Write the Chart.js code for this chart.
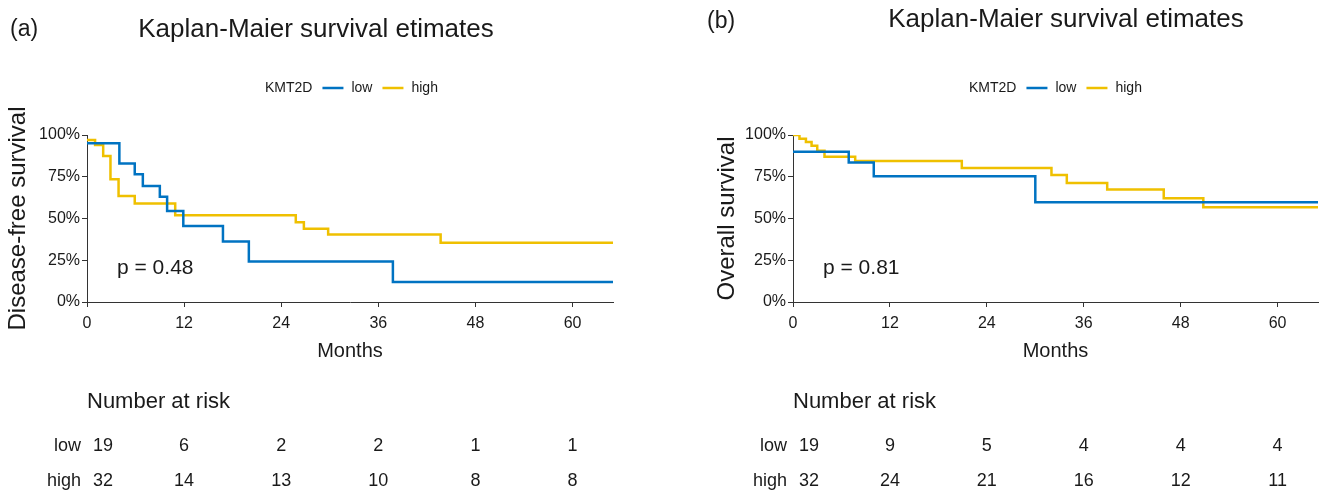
<!DOCTYPE html>
<html>
<head>
<meta charset="utf-8">
<script src="https://cdn.jsdelivr.net/npm/chart.js@4.4.1/dist/chart.umd.min.js"></script>
<style>
  body { margin: 0; background: #fff; }
  #wrap { position: relative; width: 1323px; height: 495px; }
  canvas { position: absolute; top: 0; }
</style>
</head>
<body>
<div id="wrap">
  <canvas id="graficoDFS" width="661" height="495" style="left:0"></canvas>
  <canvas id="graficoOS" width="662" height="495" style="left:661px"></canvas>
</div>
<script>
// ticks / risk table times (months)
const tempos = [0, 12, 24, 36, 48, 60];
const grupos = ["low", "high"];
const cores = ["#0073C2", "#EFC000"];

// (a) disease-free survival, step points (months, % surviving after the step)
const dfsLowT  = [0, 4.0, 5.9, 6.9, 9.0, 9.9, 11.9, 16.8, 20.0, 37.8, 65];
const dfsLowS  = [95, 83, 76.5, 69.5, 63, 54.5, 45.5, 36.3, 24.3, 12, 12];
const dfsHighT = [0, 1.0, 2.0, 2.9, 3.9, 5.9, 10.9, 25.8, 26.8, 29.8, 43.7, 65];
const dfsHighS = [97, 94, 87.5, 73.5, 63.5, 59, 52, 47.8, 43.8, 40.4, 35.5, 35.5];
const dfsRiscoLow  = [19, 6, 2, 2, 1, 1];
const dfsRiscoHigh = [32, 14, 13, 10, 8, 8];

// (b) overall survival
const osLowT  = [0, 6.9, 10.0, 30.0, 65];
const osLowS  = [90, 83.5, 75.3, 59.8, 59.8];
const osHighT = [0, 0.8, 1.6, 2.3, 3.0, 3.9, 7.7, 20.9, 32.0, 33.9, 38.9, 45.9, 50.8, 65];
const osHighS = [100, 97.8, 95.8, 93.5, 90.5, 87, 84.4, 80.2, 76.1, 71.3, 67.3, 62.2, 56.8, 56.8];
const osRiscoLow  = [19, 9, 5, 4, 4, 4];
const osRiscoHigh = [32, 24, 21, 16, 12, 11];

const FONTE = "'Liberation Sans', Arial, sans-serif";
Chart.defaults.font.family = FONTE;
Chart.defaults.color = "#1a1a1a";

const pontos = (t, s) => t.map((v, i) => ({ x: v, y: s[i] }));

// titles, legend, p value and number-at-risk table
const extrasKM = {
    id: 'extrasKM',
    afterDraw(chart, args, o) {
        const ctx = chart.ctx;
        const area = chart.chartArea;
        const xs = chart.scales.x;
        ctx.save();
        ctx.fillStyle = "#1a1a1a";
        ctx.textBaseline = "middle";

        ctx.font = "23px " + FONTE;
        ctx.textAlign = "left";
        ctx.fillText(o.rotulo, o.rotuloX, o.rotuloY);

        ctx.font = "26px " + FONTE;
        ctx.textAlign = "center";
        ctx.fillText("Kaplan-Maier survival etimates", o.tituloX, o.tituloY);

        // legend
        ctx.font = "14px " + FONTE;
        ctx.textAlign = "left";
        let x = o.legendaX;
        const y = 88;
        ctx.fillText("KMT2D", x, y);
        x += ctx.measureText("KMT2D").width + 10;
        grupos.forEach((g, i) => {
            ctx.strokeStyle = cores[i];
            ctx.lineWidth = 2.5;
            ctx.beginPath();
            ctx.moveTo(x, y);
            ctx.lineTo(x + 21, y);
            ctx.stroke();
            x += 29;
            ctx.fillText(g, x, y);
            x += ctx.measureText(g).width + 10;
        });

        ctx.font = "21px " + FONTE;
        ctx.fillText(o.p, area.left + 30, 268);

        ctx.font = "22px " + FONTE;
        ctx.fillText("Number at risk", area.left, 402);

        ctx.font = "18px " + FONTE;
        [o.riscoLow, o.riscoHigh].forEach((linha, r) => {
            const yy = r === 0 ? 446 : 481;
            ctx.textAlign = "right";
            ctx.fillText(grupos[r], area.left - 6, yy);
            ctx.textAlign = "center";
            linha.forEach((n, i) => {
                const px = xs.getPixelForValue(tempos[i]) + (i === 0 ? 16 : 0);
                ctx.fillText(String(n), px, yy);
            });
        });
        ctx.restore();
    }
};

function criarGrafico(id, lowT, lowS, highT, highS, tituloY, extras, padL, esquerda, padR) {
    const ctx = document.getElementById(id).getContext('2d');
    return new Chart(ctx, {
        type: 'line',
        data: {
            datasets: [
                { label: grupos[0], data: pontos(lowT, lowS), borderColor: cores[0] },
                { label: grupos[1], data: pontos(highT, highS), borderColor: cores[1] }
            ].map(d => Object.assign(d, { stepped: true, borderWidth: 2.5, pointRadius: 0, fill: false }))
        },
        options: {
            responsive: false,
            animation: false,
            events: [],
            layout: { padding: { top: 135, bottom: 132, left: padL, right: padR } },
            plugins: { legend: { display: false }, tooltip: { enabled: false }, extrasKM: extras },
            scales: {
                x: {
                    type: 'linear', min: 0, max: 65,
                    afterFit: s => { s.height = 61; },
                    ticks: { stepSize: 12, includeBounds: false, padding: 7, font: { size: 16 } },
                    grid: { drawOnChartArea: false, tickLength: 5, color: "#333" },
                    border: { color: "#333" },
                    title: { display: true, text: "Months", font: { size: 20 }, padding: 0 }
                },
                y: {
                    min: 0, max: 100,
                    afterFit: s => { s.width = esquerda - padL; },
                    ticks: { stepSize: 25, padding: 2, font: { size: 16 }, callback: v => v + "%" },
                    grid: { drawOnChartArea: false, tickLength: 5, color: "#333" },
                    border: { color: "#333" },
                    title: { display: true, text: tituloY, font: { size: 24 }, padding: 0 }
                }
            }
        },
        plugins: [extrasKM]
    });
}

criarGrafico('graficoDFS', dfsLowT, dfsLowS, dfsHighT, dfsHighS, "Disease-free survival", {
    rotulo: "(a)", rotuloX: 10, rotuloY: 30, tituloX: 316, tituloY: 30, legendaX: 265,
    p: "p = 0.48", riscoLow: dfsRiscoLow, riscoHigh: dfsRiscoHigh
}, 4, 87, 48);

criarGrafico('graficoOS', osLowT, osLowS, osHighT, osHighS, "Overall survival", {
    rotulo: "(b)", rotuloX: 46, rotuloY: 22, tituloX: 405, tituloY: 20, legendaX: 308,
    p: "p = 0.81", riscoLow: osRiscoLow, riscoHigh: osRiscoHigh
}, 52, 132, 5);
</script>
</body>
</html>
